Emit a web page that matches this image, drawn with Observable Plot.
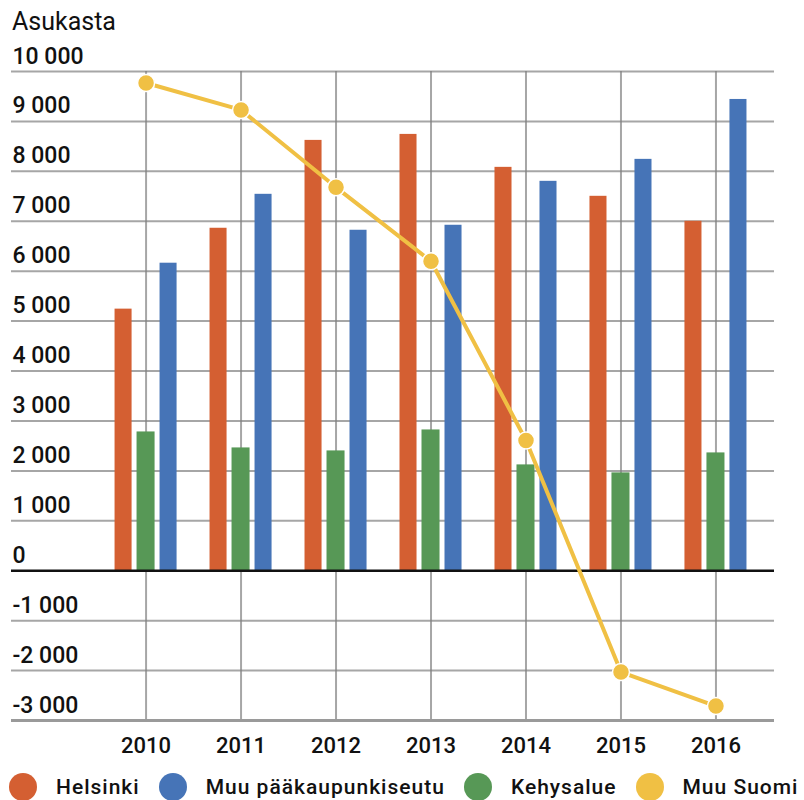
<!DOCTYPE html>
<html>
<head>
<meta charset="utf-8">
<script src="https://cdn.jsdelivr.net/npm/d3@7"></script>
<script src="https://cdn.jsdelivr.net/npm/@observablehq/plot@0.6"></script>
<style>
  body { margin: 0; background: #fff; font-family: Roboto, "Noto Sans", sans-serif; }
  #title { height: 40px; line-height: 44px; font-size: 25px; padding-left: 12px; color: #111; overflow: visible; white-space: nowrap; }
  #legend { display: flex; align-items: center; margin-top: 13px; padding-left: 9px; font-size: 21px; font-weight: 500; letter-spacing: 1px; color: #111; white-space: nowrap; }
  #legend .sw { width: 28px; height: 28px; border-radius: 50%; margin-right: 19px; flex: none; }
  #legend .it { display: flex; align-items: center; margin-right: 19px; }
</style>
</head>
<body>
<div id="title">Asukasta</div>
<div id="chart"></div>
<div id="legend"></div>
<script>
const years = ["2010", "2011", "2012", "2013", "2014", "2015", "2016"];
const helsinki = [5240, 6860, 8620, 8740, 8080, 7500, 7000];
const muuPk = [6160, 7540, 6820, 6920, 7800, 8240, 9440];
const kehysalue = [2780, 2460, 2400, 2820, 2120, 1960, 2360];
const muuSuomi = [9770, 9230, 7680, 6200, 2610, -2030, -2710];
const seriesNames = ["Helsinki", "Muu pääkaupunkiseutu", "Kehysalue", "Muu Suomi"];
const seriesColors = ["#D45F32", "#4674B7", "#579856", "#F0C044"];
const yTicks = [-3000, -2000, -1000, 0, 1000, 2000, 3000, 4000, 5000, 6000, 7000, 8000, 9000, 10000];
const yTickLabels = ["-3 000", "-2 000", "-1 000", "0", "1 000", "2 000", "3 000", "4 000", "5 000", "6 000", "7 000", "8 000", "9 000", "10 000"];

const rows = (vals) => years.map((y, i) => ({year: y, value: vals[i]}));
const hel = rows(helsinki), pk = rows(muuPk), keh = rows(kehysalue), ms = rows(muuSuomi);

const gridColor = "#808080";
const chart = Plot.plot({
  width: 804,
  height: 720,
  marginLeft: 11,
  marginRight: 30,
  marginTop: 31,
  marginBottom: 40,
  style: {fontFamily: "Roboto, 'Noto Sans', sans-serif", color: "#111", background: "#fff"},
  x: {type: "band", domain: years, paddingInner: 0.347, paddingOuter: 0.69, align: 0.79, round: false, label: null},
  y: {domain: [-3000, 10000], label: null},
  marks: [
    Plot.gridY(yTicks.filter(d => d !== 0 && d !== -3000), {stroke: gridColor, strokeOpacity: 0.7, strokeWidth: 2}),
    Plot.gridX(years, {stroke: gridColor, strokeOpacity: 0.7, strokeWidth: 2}),
    Plot.ruleY([-3000], {stroke: "#9a9a9a", strokeWidth: 3}),
    Plot.barY(hel, {x: "year", y: "value", fill: seriesColors[0], insetLeft: 0, insetRight: 45}),
    Plot.barY(keh, {x: "year", y: "value", fill: seriesColors[2], insetLeft: 22, insetRight: 22}),
    Plot.barY(pk, {x: "year", y: "value", fill: seriesColors[1], insetLeft: 45, insetRight: 0}),
    Plot.ruleY([0], {stroke: "#111", strokeWidth: 2.5}),
    Plot.line(ms, {x: "year", y: "value", stroke: seriesColors[3], strokeWidth: 4}),
    Plot.dot(ms, {x: "year", y: "value", r: 8.5, fill: seriesColors[3], stroke: "#fff", strokeWidth: 1.5}),
    Plot.text(yTicks, {y: d => d, text: (d, i) => yTickLabels[i], frameAnchor: "left", textAnchor: "start", lineAnchor: "bottom", dx: 1, dy: -8, fontSize: 23, fontWeight: 500, fill: "#111"}),
    Plot.axisX({tickSize: 0, tickPadding: 17, fontSize: 22, fontWeight: 500, label: null, fill: "#111"}),
    Plot.axisY({ticks: []})
  ]
});
document.getElementById("chart").appendChild(chart);

const legend = document.getElementById("legend");
seriesNames.forEach((name, i) => {
  const it = document.createElement("div");
  it.className = "it";
  const sw = document.createElement("span");
  sw.className = "sw";
  sw.style.background = seriesColors[i];
  const t = document.createElement("span");
  t.textContent = name;
  it.appendChild(sw);
  it.appendChild(t);
  legend.appendChild(it);
});
</script>
</body>
</html>
